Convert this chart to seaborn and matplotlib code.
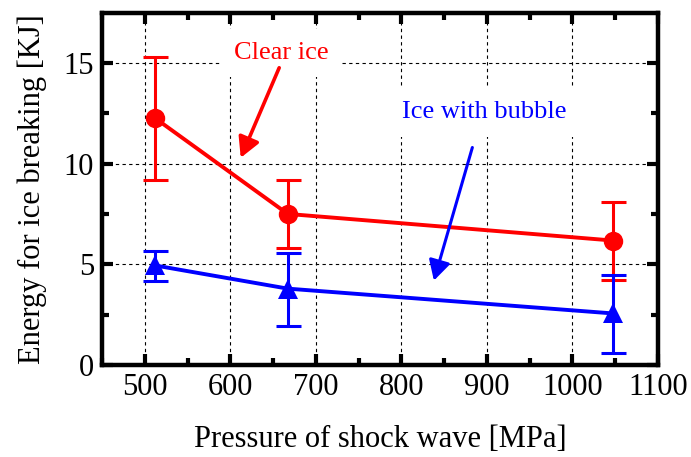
import numpy as np
import pandas as pd
import matplotlib
matplotlib.use('Agg')
import matplotlib.pyplot as plt
import seaborn as sns

# Data
pressure = [512, 667, 1047]
clear_energy = [12.26, 7.51, 6.19]
clear_upper = [15.3, 9.19, 8.12]
clear_lower = [9.19, 5.81, 4.21]
bubble_energy = [4.95, 3.80, 2.57]
bubble_upper = [5.66, 5.58, 4.49]
bubble_lower = [4.17, 1.93, 0.61]

sns.set_style('ticks')
plt.rcParams['font.family'] = ['Liberation Serif', 'DejaVu Serif']
plt.rcParams['text.color'] = 'black'
plt.rcParams['axes.labelcolor'] = 'black'
plt.rcParams['xtick.color'] = 'black'
plt.rcParams['ytick.color'] = 'black'

df = pd.DataFrame({
    'pressure': pressure * 2,
    'energy': clear_energy + bubble_energy,
    'kind': ['Clear ice'] * 3 + ['Ice with bubble'] * 3,
})

fig = plt.figure(figsize=(6.91, 4.57), dpi=100)
ax = fig.add_axes([0.148, 0.201, 0.804, 0.771])

colors = {'Clear ice': 'red', 'Ice with bubble': 'blue'}
markers = {'Clear ice': 'o', 'Ice with bubble': '^'}

sns.lineplot(data=df, x='pressure', y='energy', hue='kind', palette=colors,
             style='kind', markers=markers, dashes=False, markersize=14,
             markeredgewidth=0, linewidth=2.8, legend=False, ax=ax, zorder=3)

for e, up, lo, c in [(clear_energy, clear_upper, clear_lower, 'red'),
                     (bubble_energy, bubble_upper, bubble_lower, 'blue')]:
    e = np.array(e)
    yerr = [e - np.array(lo), np.array(up) - e]
    ax.errorbar(pressure, e, yerr=yerr, fmt='none', ecolor=c, elinewidth=2.2,
                capsize=9, capthick=2.2, zorder=3)

ax.set_xlim(450, 1100)
ax.set_ylim(0, 17.5)
ax.set_xticks(np.arange(500, 1101, 100))
ax.set_yticks([0, 5, 10, 15])
ax.set_xticks(np.arange(450, 1100, 50), minor=True)
ax.set_yticks(np.arange(0, 17.5, 2.5), minor=True)
ax.tick_params(which='both', direction='in', top=True, right=True, width=3,
               labelsize=22, color='black')
ax.tick_params(which='major', length=8, pad=6)
ax.tick_params(which='minor', length=5)
ax.grid(True, which='major', color='black', linestyle=(0, (3, 3)), linewidth=0.8)
for s in ax.spines.values():
    s.set_linewidth(3.2)
    s.set_color('black')

ax.set_xlabel('Pressure of shock wave [MPa]', fontsize=22, labelpad=16)
ax.set_ylabel('Energy for ice breaking [KJ]', fontsize=22, labelpad=12)

box = dict(boxstyle='square,pad=0.5', facecolor='white', edgecolor='none')
ax.text(660, 15.5, 'Clear ice', color='red', fontsize=19, ha='center',
        va='center', bbox=box, zorder=4)
ax.text(897, 12.55, 'Ice with bubble', color='blue', fontsize=19, ha='center',
        va='center', bbox=box, zorder=4)

head = '-|>,head_length=0.55,head_width=0.3'
ax.annotate('', xy=(612, 10.3), xytext=(657, 14.77), zorder=5,
            arrowprops=dict(arrowstyle=head, color='red', lw=2.6,
                            shrinkA=0, shrinkB=0, mutation_scale=22))
ax.annotate('', xy=(838, 4.2), xytext=(883, 10.81), zorder=5,
            arrowprops=dict(arrowstyle=head, color='blue', lw=2.2,
                            shrinkA=0, shrinkB=0, mutation_scale=22))

fig.savefig('out.png', dpi=100)
